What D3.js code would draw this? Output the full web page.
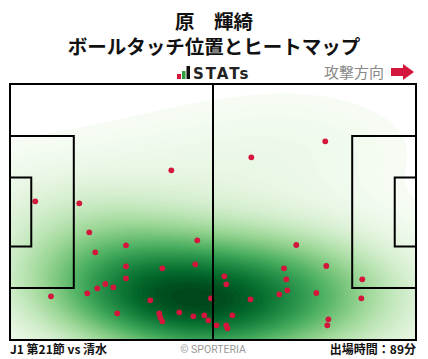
<!DOCTYPE html>
<html><head><meta charset="utf-8">
<script src="https://cdn.jsdelivr.net/npm/d3@7"></script>
<style>body{margin:0;background:#fff}svg{display:block}</style>
</head><body><svg id="c" width="428" height="359"></svg>
<script>
// Ball touch positions in pitch metres (x: 0-105 toward attack direction, y: 0-68 from top)
const touchX = [6.54,17.92,41.72,20.51,30.0,22.06,48.44,30.0,47.92,39.39,30.0,24.65,22.58,26.72,19.99,10.60,36.28,51.98,27.75,38.61,38.87,39.39,43.78,47.41,50.25,51.29,
                81.54,62.41,74.04,81.80,70.86,55.42,55.94,71.46,71.72,69.65,79.22,62.20,91.10,90.86,57.49,53.41,55.94,56.23,82.33,82.06];
const touchY = [31.16,31.69,22.92,39.39,42.85,44.70,41.52,48.42,47.89,48.96,51.61,53.13,54.27,54.0,55.60,56.39,57.46,56.92,60.91,60.91,61.97,63.03,60.64,61.70,61.44,62.77,
                15.22,19.47,42.77,48.34,48.96,51.08,53.20,51.88,54.80,55.86,55.52,57.19,51.88,56.92,61.44,64.09,64.09,64.89,62.50,64.09];
const titleLines = ["原　輝綺", "ボールタッチ位置とヒートマップ"];
const footerLeft = "J1 第21節 vs 清水";
const footerRight = "出場時間：89分";
const credit = "© SPORTERIA";
const directionLabel = "攻撃方向";
const pitchLength = 105, pitchWidth = 68;
const penaltyDepth = 16.5, penaltyWidth = 40.32, goalAreaDepth = 5.5, goalAreaWidth = 18.32;

const svg = d3.select("#c");
const P = {x0: 10, y0: 84, x1: 416, y1: 340};
const x = d3.scaleLinear().domain([0, pitchLength]).range([P.x0, P.x1]);
const y = d3.scaleLinear().domain([0, pitchWidth]).range([P.y0, P.y1]);

// ---- Gaussian KDE (Scott's rule, full covariance, adjusted bandwidth) ----
const bwAdjust = 1.65;
const n = touchX.length;
const mx = d3.mean(touchX), my = d3.mean(touchY);
const sxx = d3.sum(touchX, v => (v - mx) ** 2) / (n - 1);
const syy = d3.sum(touchY, v => (v - my) ** 2) / (n - 1);
const sxy = d3.sum(touchX.map((v, i) => (v - mx) * (touchY[i] - my))) / (n - 1);
const f2 = (Math.pow(n, -1 / 6) * bwAdjust) ** 2;
const ka = sxx * f2, kb = sxy * f2, kd = syy * f2;
const det = ka * kd - kb * kb;
const ia = kd / det, ib = -kb / det, id = ka / det;
const knorm = 1 / (n * 2 * Math.PI * Math.sqrt(det));
function dens(px, py) {
  let s = 0;
  for (let i = 0; i < n; i++) {
    const dx = px - touchX[i], dy = py - touchY[i];
    s += Math.exp(-0.5 * (ia * dx * dx + 2 * ib * dx * dy + id * dy * dy));
  }
  return s * knorm;
}
// iso-proportion levels (seaborn-like) on extended grid
const bwx = Math.sqrt(ka), bwy = Math.sqrt(kd);
const gxs = d3.range(200).map(i => d3.min(touchX) - 3 * bwx + i * (d3.max(touchX) - d3.min(touchX) + 6 * bwx) / 199);
const gys = d3.range(200).map(i => d3.min(touchY) - 3 * bwy + i * (d3.max(touchY) - d3.min(touchY) + 6 * bwy) / 199);
const allV = [];
for (const gy of gys) for (const gx of gxs) allV.push(dens(gx, gy));
const sorted = allV.slice().sort((a, b) => b - a);
const total = d3.sum(sorted);
const cum = []; let acc = 0;
for (const v of sorted) { acc += v; cum.push(acc / total); }
const nLevels = 60, thresh = 0.03;
const levels = d3.range(nLevels).map(k => {
  const p = thresh + k * (1 - thresh) / (nLevels - 1);
  let idx = d3.bisectLeft(cum, 1 - p);
  idx = Math.min(Math.max(idx, 0), sorted.length - 1);
  return sorted[idx];
}).sort((a, b) => a - b);
const L0 = levels[0], Lmax = levels[levels.length - 1];

// pitch grid
const cell = 2;
const nx = Math.round((P.x1 - P.x0) / cell), ny = Math.round((P.y1 - P.y0) / cell);
const vals = new Float64Array(nx * ny);
for (let j = 0; j < ny; j++) for (let i = 0; i < nx; i++)
  vals[j * nx + i] = dens(x.invert(P.x0 + (i + 0.5) * cell), y.invert(P.y0 + (j + 0.5) * cell));
const contours = d3.contours().size([nx, ny]).thresholds(levels.slice(0, -1))(vals);
const path = d3.geoPath(d3.geoTransform({point(px, py) { this.stream.point(P.x0 + px * cell, P.y0 + py * cell); }}));
const color = d3.scaleSequential(d3.interpolateGreens).domain([L0, Lmax]);

svg.append("clipPath").attr("id", "pc").append("rect")
  .attr("x", P.x0).attr("y", P.y0).attr("width", P.x1 - P.x0).attr("height", P.y1 - P.y0);
const heat = svg.append("g").attr("clip-path", "url(#pc)");
contours.forEach((c, k) => {
  const mid = (levels[k] + levels[k + 1]) / 2;
  heat.append("path").attr("d", path(c)).attr("fill", color(mid)).attr("stroke", color(mid)).attr("stroke-width", 0.3);
});

// points
svg.append("g").selectAll("circle").data(touchX.map((v, i) => [v, touchY[i]])).join("circle")
  .attr("cx", d => x(d[0])).attr("cy", d => y(d[1])).attr("r", 2.9).attr("fill", "#d4153c");

// pitch lines
const lines = svg.append("g").attr("fill", "none").attr("stroke", "#000").attr("stroke-width", 2);
lines.append("rect").attr("x", P.x0).attr("y", P.y0).attr("width", P.x1 - P.x0).attr("height", P.y1 - P.y0);
lines.append("line").attr("x1", x(pitchLength / 2)).attr("x2", x(pitchLength / 2)).attr("y1", P.y0).attr("y2", P.y1);
const boxes = [
  [0, penaltyDepth, penaltyWidth], [pitchLength - penaltyDepth, pitchLength, penaltyWidth],
  [0, goalAreaDepth, goalAreaWidth], [pitchLength - goalAreaDepth, pitchLength, goalAreaWidth]];
boxes.forEach(([a, b, w]) => {
  const t = (pitchWidth - w) / 2, bt = (pitchWidth + w) / 2;
  const xa = x(a), xb = x(b);
  lines.append("path").attr("d", a === 0
    ? `M${xa},${y(t)}H${xb}V${y(bt)}H${xa}`
    : `M${xb},${y(t)}H${xa}V${y(bt)}H${xb}`);
});

// titles (one text element, two lines)
const cjk = "'Noto Sans CJK JP','Noto Sans',sans-serif";
const title = svg.append("text").attr("text-anchor", "middle")
  .attr("font-family", cjk).attr("font-weight", 700).attr("font-size", 19.5).attr("fill", "#111");
title.append("tspan").attr("x", 214).attr("y", 29).text(titleLines[0]);
title.append("tspan").attr("x", 214).attr("y", 54).text(titleLines[1]);

// STATs logo
const logo = svg.append("g");
logo.append("rect").attr("x", 177).attr("y", 74).attr("width", 4).attr("height", 5).attr("fill", "#d4153c");
logo.append("rect").attr("x", 182).attr("y", 71).attr("width", 3.5).attr("height", 8).attr("fill", "#2e9e3e");
logo.append("rect").attr("x", 186.5).attr("y", 66).attr("width", 3.5).attr("height", 13).attr("fill", "#111");
logo.append("text").attr("x", 193).attr("y", 79).attr("font-family", "'DejaVu Sans',sans-serif").attr("font-weight", 700)
  .attr("font-size", 15).attr("letter-spacing", 2).attr("fill", "#222").text("STATs");

// attack direction
svg.append("text").attr("x", 384).attr("y", 78).attr("text-anchor", "end")
  .attr("font-family", cjk).attr("font-size", 15).attr("fill", "#888").text(directionLabel);
svg.append("path").attr("d", "M391,68H403V64L414,72L403,80V76H391Z").attr("fill", "#d4153c");

// footer
svg.append("text").attr("x", 10).attr("y", 354).attr("font-family", cjk).attr("font-weight", 700)
  .attr("font-size", 12).attr("fill", "#111").text(footerLeft);
svg.append("text").attr("x", 213).attr("y", 353).attr("text-anchor", "middle").attr("font-family", "'Roboto','Noto Sans',sans-serif")
  .attr("font-size", 10.5).attr("fill", "#999").text(credit);
svg.append("text").attr("x", 416).attr("y", 354).attr("text-anchor", "end").attr("font-family", cjk).attr("font-weight", 700)
  .attr("font-size", 12).attr("fill", "#111").text(footerRight);
</script></body></html>
